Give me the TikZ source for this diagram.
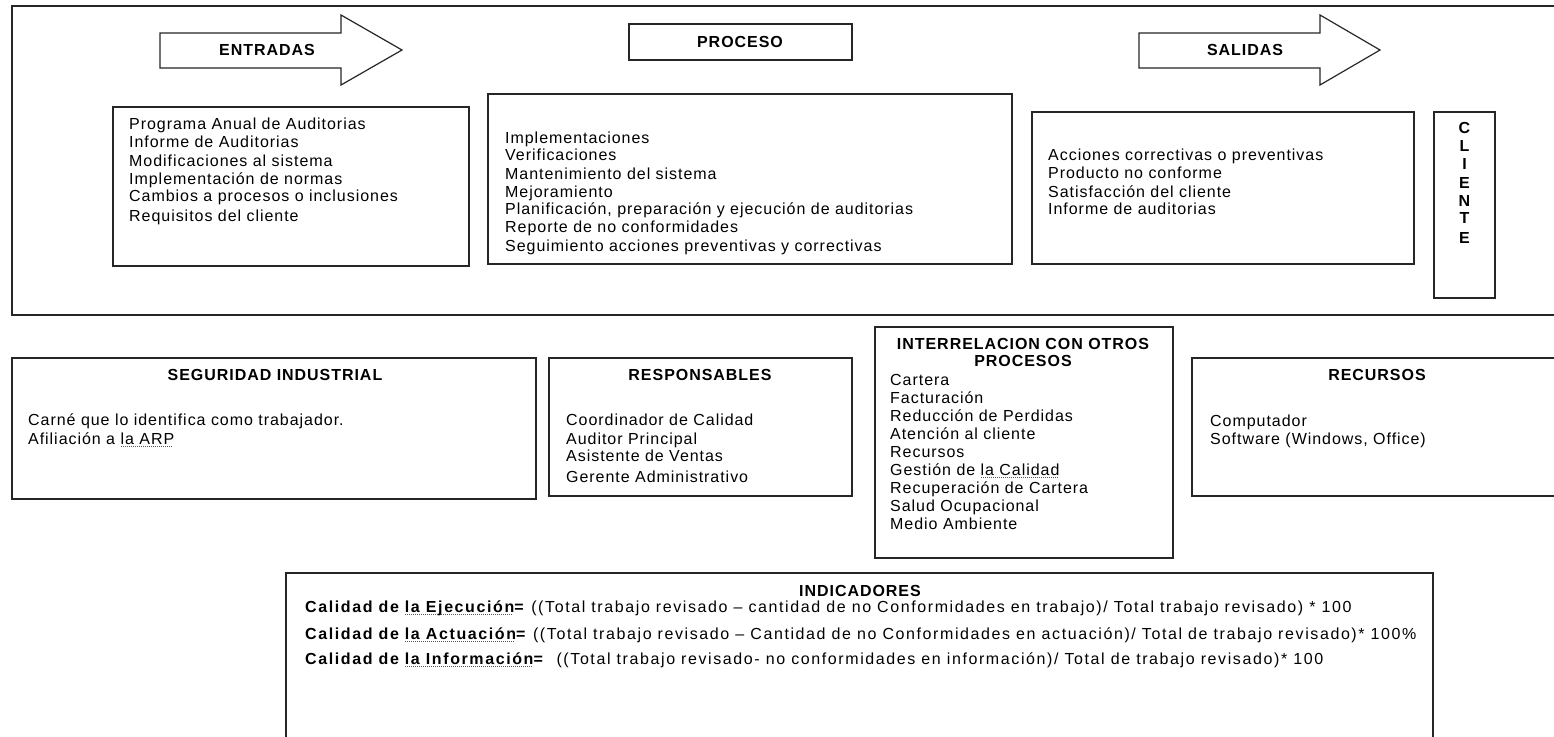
\documentclass[tikz,border=0pt]{standalone}
\usepackage{fontspec}
\setmainfont{Liberation Sans}[LetterSpace=6]
\newfontfamily\formfont{Liberation Sans}[LetterSpace=10]
\usetikzlibrary{fit}
\newsavebox\splbox
\newcommand\spl[1]{\sbox\splbox{#1}\rlap{\color{magenta}\raisebox{-3pt}{\hbox to \wd\splbox{\leaders\hbox to 2pt{\hss\rule{1pt}{0.9pt}\hss}\hfill}}}\usebox\splbox}
\begin{document}
\begin{tikzpicture}[x=1pt,y=-1pt,
  box/.style={draw=black!85, line width=1.2pt, inner sep=0pt, fill=white},
  bx/.style={draw=black!85, line width=1.2pt},
  txt/.style={anchor=base west, inner sep=0pt, font=\fontsize{16}{18}\selectfont},
  ttl/.style={anchor=base, inner sep=0pt, font=\fontsize{16}{18}\selectfont\bfseries},
  frm/.style={anchor=base west, inner sep=0pt, font=\fontsize{16}{18}\formfont}]
\clip (0,0) rectangle (1554,736);
\fill[white] (0,0) rectangle (1554,736);

% ---------- top frame ----------
\node[box, fit={(12,6) (1570,315)}] (outer) {};

% ENTRADAS arrow
\draw[bx, fill=white] (160,33) -- (341,33) -- (341,15) -- (402,50) -- (341,85) -- (341,68) -- (160,68) -- cycle;
\node[ttl] (entlbl) at (267,55.7) {ENTRADAS};

% PROCESO header
\node[box, fit={(629,24) (852,60)}] (prochead) {};
\node[ttl] (proclbl) at (740,47.7) {PROCESO};

% SALIDAS arrow
\draw[bx, fill=white] (1139,33) -- (1320,33) -- (1320,15) -- (1380,50) -- (1320,85) -- (1320,68) -- (1139,68) -- cycle;
\node[ttl] (sallbl) at (1245,55.7) {SALIDAS};

% Entradas box
\node[box, fit={(113,107) (469,266)}] (entbox) {};
\node[txt] (e1) at (129,129) {Programa Anual de Auditorias};
\node[txt] (e2) at (129,147) {Informe de Auditorias};
\node[txt] (e3) at (129,166) {Modificaciones al sistema};
\node[txt] (e4) at (129,184) {Implementación de normas};
\node[txt] (e5) at (129,201) {Cambios a procesos o inclusiones};
\node[txt] (e6) at (129,221) {Requisitos del cliente};

% Proceso box
\node[box, fit={(488,94) (1012,264)}] (procbox) {};
\node[txt] (p1) at (505,143) {Implementaciones};
\node[txt] (p2) at (505,160) {Verificaciones};
\node[txt] (p3) at (505,179) {Mantenimiento del sistema};
\node[txt] (p4) at (505,197) {Mejoramiento};
\node[txt] (p5) at (505,214) {Planificación, preparación y ejecución de auditorias};
\node[txt] (p6) at (505,232) {Reporte de no conformidades};
\node[txt] (p7) at (505,251) {Seguimiento acciones preventivas y correctivas};

% Salidas box
\node[box, fit={(1032,112) (1414,264)}] (salbox) {};
\node[txt] (s1) at (1048,160) {Acciones correctivas o preventivas};
\node[txt] (s2) at (1048,178) {Producto no conforme};
\node[txt] (s3) at (1048,197) {Satisfacción del cliente};
\node[txt] (s4) at (1048,214) {Informe de auditorias};

% Cliente box
\node[box, fit={(1434,112) (1495,298)}] (clibox) {};
\node[ttl] (c1) at (1464.5,133) {C};
\node[ttl] (c2) at (1464.5,151) {L};
\node[ttl] (c3) at (1464.5,169) {I};
\node[ttl] (c4) at (1464.5,188) {E};
\node[ttl] (c5) at (1464.5,206) {N};
\node[ttl] (c6) at (1464.5,223) {T};
\node[ttl] (c7) at (1464.5,243) {E};

% ---------- middle row ----------
\node[box, fit={(12,358) (536,499)}] (segbox) {};
\node[ttl] (segt) at (275,380) {SEGURIDAD INDUSTRIAL};
\node[txt] (g1) at (28,425) {Carné que lo identifica como trabajador.};
\node[txt] (g2) at (28,444) {Afiliación a \spl{la ARP}};

\node[box, fit={(549,358) (852,496)}] (resbox) {};
\node[ttl] (rest) at (700,380) {RESPONSABLES};
\node[txt] (r1) at (566,425) {Coordinador de Calidad};
\node[txt] (r2) at (566,444) {Auditor Principal};
\node[txt] (r3) at (566,461) {Asistente de Ventas};
\node[txt] (r4) at (566,482) {Gerente Administrativo};

\node[box, fit={(875,327) (1173,558)}] (intbox) {};
\node[ttl] (intt1) at (1023,349) {INTERRELACION CON OTROS};
\node[ttl] (intt2) at (1023,366) {PROCESOS};
\node[txt] (i1) at (890,385) {Cartera};
\node[txt] (i2) at (890,403) {Facturación};
\node[txt] (i3) at (890,421) {Reducción de Perdidas};
\node[txt] (i4) at (890,439) {Atención al cliente};
\node[txt] (i5) at (890,457) {Recursos};
\node[txt] (i6) at (890,475) {Gestión de \spl{la Calidad}};
\node[txt] (i7) at (890,493) {Recuperación de Cartera};
\node[txt] (i8) at (890,511) {Salud Ocupacional};
\node[txt] (i9) at (890,529) {Medio Ambiente};

\node[box, fit={(1192,358) (1570,496)}] (recbox) {};
\node[ttl] (rect) at (1377,380) {RECURSOS};
\node[txt] (k1) at (1210,426) {Computador};
\node[txt] (k2) at (1210,444) {Software (Windows, Office)};

% ---------- indicadores ----------
\node[box, fit={(286,573) (1433,760)}] (indbox) {};
\node[ttl] (indt) at (860,596) {INDICADORES};
\node[frm] (f1) at (305,612) {\textbf{Calidad de \spl{la Ejecución}=} ((Total trabajo revisado – cantidad de no Conformidades en trabajo)/ Total trabajo revisado) * 100};
\node[frm] (f2) at (305,639) {\textbf{Calidad de \spl{la Actuación}=} ((Total trabajo revisado – Cantidad de no Conformidades en actuación)/ Total de trabajo revisado)* 100\%};
\node[frm] (f3) at (305,664) {\textbf{Calidad de \spl{la Información}=}~~((Total trabajo revisado- no conformidades en información)/ Total de trabajo revisado)* 100};
\end{tikzpicture}
\end{document}
